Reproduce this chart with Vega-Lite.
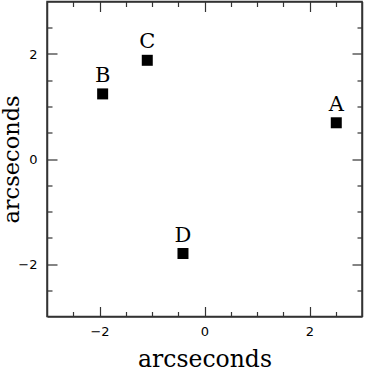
{
  "$schema": "https://vega.github.io/schema/vega-lite/v6.json",
  "width": 315,
  "height": 315,
  "autosize": "none",
  "padding": {"left": 47, "top": 1.5, "right": 4, "bottom": 62.5},
  "background": "white",
  "config": {
    "view": {"stroke": "#333333", "strokeWidth": 1.5},
    "axis": {
      "domainColor": "#333333",
      "domainWidth": 1.5,
      "tickColor": "#333333",
      "tickWidth": 1.2,
      "grid": false,
      "labelFont": "DejaVu Sans",
      "labelFontSize": 13,
      "labelColor": "black",
      "titleFont": "DejaVu Serif",
      "titleFontSize": 23.5,
      "titleFontWeight": "normal",
      "titleColor": "black"
    }
  },
  "data": {
    "values": [
      {"label": "A", "x": 2.51, "y": 0.69},
      {"label": "B", "x": -1.94, "y": 1.24},
      {"label": "C", "x": -1.09, "y": 1.88},
      {"label": "D", "x": -0.41, "y": -1.8}
    ]
  },
  "layer": [
    {
      "mark": {"type": "square", "size": 121, "color": "black", "opacity": 1},
      "encoding": {
        "x": {
          "field": "x", "type": "quantitative",
          "scale": {"domain": [-3, 3], "nice": false, "zero": false},
          "axis": {
            "orient": "bottom",
            "values": [-2.5, -2, -1.5, -1, -0.5, 0, 0.5, 1, 1.5, 2, 2.5],
            "format": ".0f",
            "labelExpr": "datum.value % 2 === 0 ? datum.label : ''",
            "tickSize": {"condition": {"test": "datum.value % 2 === 0", "value": -10}, "value": -5},
            "labelPadding": 18.5,
            "title": "arcseconds",
            "titleY": 49.5,
            "titleBaseline": "alphabetic"
          }
        },
        "y": {
          "field": "y", "type": "quantitative",
          "scale": {"domain": [-3, 3], "nice": false, "zero": false},
          "axis": {
            "orient": "left",
            "values": [-2.5, -2, -1.5, -1, -0.5, 0, 0.5, 1, 1.5, 2, 2.5],
            "format": ".0f",
            "labelExpr": "datum.value % 2 === 0 ? datum.label : ''",
            "tickSize": {"condition": {"test": "datum.value % 2 === 0", "value": -10}, "value": -5},
            "labelPadding": 20,
            "title": "arcseconds",
            "titleFontSize": 22.5,
            "titleX": -47,
            "titleY": 157.5,
            "titleAngle": -90,
            "titleBaseline": "top"
          }
        }
      }
    },
    {
      "mark": {"type": "text", "font": "DejaVu Serif", "fontSize": 21, "color": "black", "baseline": "alphabetic", "dy": -12},
      "encoding": {
        "text": {"field": "label"},
        "x": {
          "field": "x", "type": "quantitative",
          "scale": {"domain": [-3, 3], "nice": false, "zero": false},
          "axis": {
            "orient": "top",
            "values": [-2.5, -2, -1.5, -1, -0.5, 0, 0.5, 1, 1.5, 2, 2.5],
            "labels": false,
            "tickSize": {"condition": {"test": "datum.value % 2 === 0", "value": -10}, "value": -5},
            "title": null
          }
        },
        "y": {
          "field": "y", "type": "quantitative",
          "scale": {"domain": [-3, 3], "nice": false, "zero": false},
          "axis": {
            "orient": "right",
            "values": [-2.5, -2, -1.5, -1, -0.5, 0, 0.5, 1, 1.5, 2, 2.5],
            "labels": false,
            "tickSize": {"condition": {"test": "datum.value % 2 === 0", "value": -10}, "value": -5},
            "title": null
          }
        }
      }
    }
  ],
  "resolve": {"axis": {"x": "independent", "y": "independent"}}
}
